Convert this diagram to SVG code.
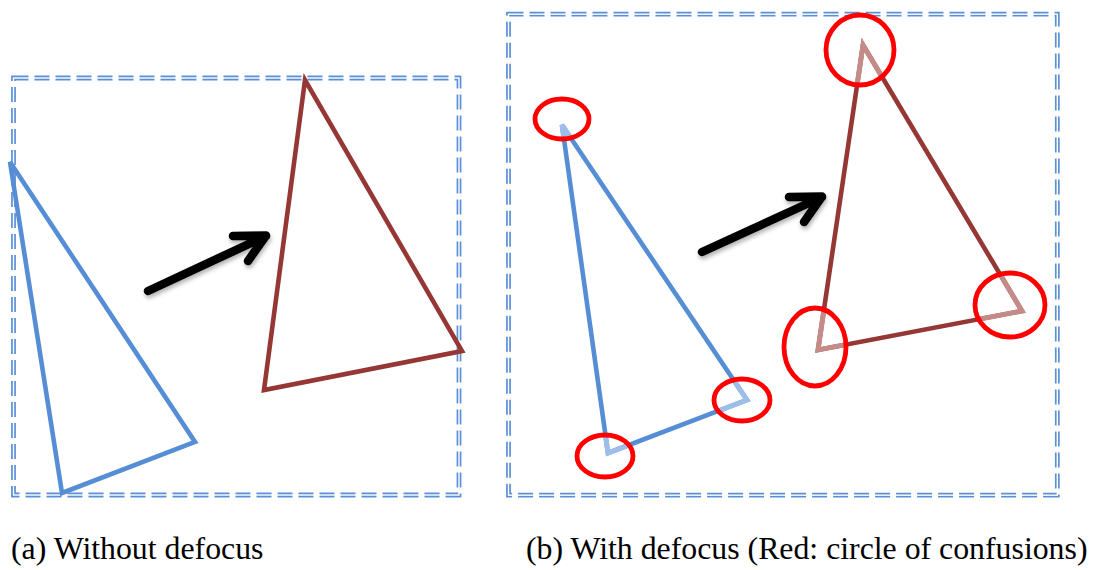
<svg xmlns="http://www.w3.org/2000/svg" width="1096" height="570" viewBox="0 0 1096 570">
  <style>
    .frame{fill:none;stroke:#5B8FD6;stroke-width:4.8;stroke-dasharray:15 6}
    .frameIn{fill:none;stroke:#ffffff;stroke-width:1.4}
    .tb{fill:none;stroke:#568ED6;stroke-width:4.6;stroke-linejoin:miter}
    .tr{fill:none;stroke:#953735;stroke-width:4.6;stroke-linejoin:miter}
    .tbl{fill:none;stroke:#9DBEE8;stroke-width:5;stroke-linejoin:miter}
    .trl{fill:none;stroke:#C48B89;stroke-width:5;stroke-linejoin:miter}
    .coc{fill:none;stroke:#FF0000;stroke-width:4.8}
    .arrow{fill:none;stroke:#000;stroke-width:8.5;stroke-linecap:round;stroke-linejoin:round}
    .cap{font-size:31.8px;fill:#000}
  </style>
  <defs>
    <filter id="sh" x="-20%" y="-20%" width="140%" height="160%">
      <feDropShadow dx="1" dy="3" stdDeviation="2" flood-color="#000" flood-opacity="0.3"/>
    </filter>
    <clipPath id="cocClip">
      <ellipse cx="562" cy="119" rx="25" ry="18"/>
      <ellipse cx="605" cy="456" rx="26" ry="19"/>
      <ellipse cx="742" cy="400" rx="26" ry="19"/>
      <ellipse cx="860" cy="50" rx="32" ry="33"/>
      <ellipse cx="815" cy="347" rx="29" ry="37"/>
      <ellipse cx="1010" cy="305" rx="33" ry="30"/>
    </clipPath>
  </defs>

  <g id="panel-a">
    <g id="frame-a">
      <rect class="frame" x="13.5" y="78" width="445.5" height="417"/>
      <rect class="frameIn" x="13.5" y="78" width="445.5" height="417"/>
    </g>
    <g id="blue-triangle-a">
      <polygon class="tb" points="10,162 62,493 195,442"/>
    </g>
    <g id="red-triangle-a">
      <polygon class="tr" points="305,80 264,390 462,351"/>
    </g>
  </g>

  <g id="panel-b">
    <g id="frame-b">
      <rect class="frame" x="508.5" y="14.2" width="548.8" height="481"/>
      <rect class="frameIn" x="508.5" y="14.2" width="548.8" height="481"/>
    </g>
    <g id="blue-triangle-b">
      <polygon class="tb" points="562,125 608,453 747,400"/>
      <polygon class="tbl" points="562,125 608,453 747,400" clip-path="url(#cocClip)"/>
    </g>
    <g id="red-triangle-b">
      <polygon class="tr" points="863,45 818,350 1022,311"/>
      <polygon class="trl" points="863,45 818,350 1022,311" clip-path="url(#cocClip)"/>
    </g>
    <g id="circles-of-confusion">
      <ellipse class="coc" cx="562" cy="119" rx="27" ry="20"/>
      <ellipse class="coc" cx="605" cy="456" rx="28" ry="21"/>
      <ellipse class="coc" cx="742" cy="400" rx="28" ry="21"/>
      <ellipse class="coc" cx="860" cy="50" rx="34" ry="35"/>
      <ellipse class="coc" cx="815" cy="347" rx="31" ry="39"/>
      <ellipse class="coc" cx="1010" cy="305" rx="35" ry="32"/>
    </g>
  </g>

  <g id="connectors">
    <g id="arrow-a" filter="url(#sh)">
      <path class="arrow" d="M148,291 L266,236 M233,236 L266,235.5 L248,261"/>
    </g>
    <g id="arrow-b" filter="url(#sh)">
      <path class="arrow" d="M702,252 L822,197 M789,197 L822,196.5 L804,222"/>
    </g>
  </g>

  <g id="captions" font-family="'Liberation Serif', 'Times New Roman', 'DejaVu Serif', serif">
    <text class="cap" x="11" y="559">(a) Without defocus</text>
    <text class="cap" x="526" y="559">(b) With defocus (Red: circle of confusions)</text>
  </g>
</svg>
